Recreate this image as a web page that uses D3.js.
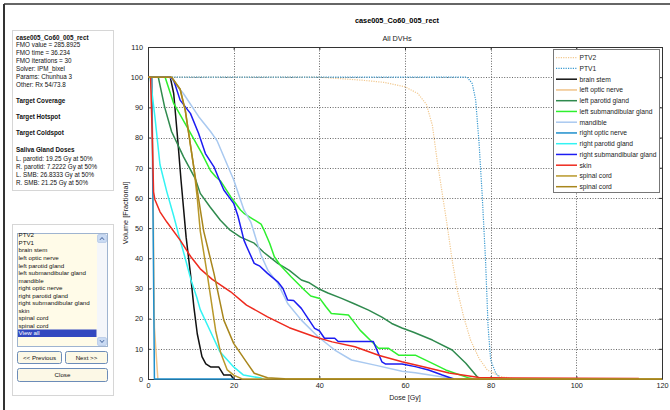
<!DOCTYPE html>
<html>
<head>
<meta charset="utf-8">
<script src="https://cdn.jsdelivr.net/npm/d3@7"></script>
<style>
  body { margin: 0; background: #fff; }
  svg { display: block; font-family: "Liberation Sans", Arial, sans-serif; }
</style>
</head>
<body>
<svg id="fig" width="670" height="410"></svg>
<script>
// ---- values ----
var xTicks = [0, 20, 40, 60, 80, 100, 120];
var yTicks = [0, 10, 20, 30, 40, 50, 60, 70, 80, 90, 100, 110];

var ptv2 = [[0,100],[40,100],[50,99],[55,98.3],[60,96.8],[63,94.6],[65,91],[66.4,84],[67.5,72.5],[68.7,61.5],[69.9,50.4],[71,39.4],[72.2,29.5],[73.7,20.6],[75.3,12.9],[77.3,6.8],[79.2,3],[82.3,0.8],[86,0]];
var ptv1 = [[0,100],[74.5,100],[75.7,97.9],[76.5,92.4],[77.3,78],[78,61.5],[78.8,39.4],[79.4,17.3],[80,6.3],[81.2,1.9],[82.3,0.2],[83,0]];
var brainStem = [[0,100],[5.2,100],[6,94.6],[6.9,80],[7.7,66],[8.9,47],[9.9,35],[10.7,24],[11.5,15],[12.6,7.4],[13.5,5],[14.6,4],[16.5,4],[17.7,1.3],[19.3,1.3],[20,0]];
var leftOptic = [[0,100],[0.9,100],[1.2,60],[1.5,17],[2.3,0]];
var leftParotid = [[0,100],[2.4,100],[3.9,90],[5.5,82],[7.5,76],[8.3,73.6],[11,66.5],[12.2,61.5],[14.5,57],[16.9,52.6],[19,49.5],[21.6,47],[24.8,45],[27,42],[30.3,38.3],[33,36],[35.8,32.8],[37.5,32],[39.7,30],[42,28.5],[45.2,26.7],[48,25],[51.5,22.8],[54.6,20.5],[56.9,18.4],[59.3,16.9],[62,15.5],[66.4,12.9],[71,9.6],[74.2,5.2],[77.3,0]];
var leftSmb = [[0,100],[4,100],[6,91.3],[9.1,83.5],[12.6,74.7],[14.6,69],[15.8,67],[17,65.5],[19.3,60.4],[21.6,56],[22.4,54.9],[24.5,53],[26.4,51.3],[27.1,49.3],[28.4,45],[29.5,40.5],[31,37.5],[33.4,33.9],[36.5,29.5],[38,27.5],[40.1,26.7],[41.5,24],[42.8,21.7],[46.8,21.2],[48,19],[49.5,16.2],[52.2,12.4],[53.8,10.2],[56.1,10.2],[58.5,7.9],[62.4,7.9],[66.4,5.2],[69.5,3],[75,0.3],[76,0]];
var mandible = [[0,100],[5.2,100],[8.3,94.5],[11.8,87],[14.6,82],[16.1,79],[18.5,71],[20,66],[22.4,56],[24,52],[25.2,46.5],[26.4,41],[28,36],[30.3,31.7],[32.6,25],[35.8,19.5],[39.7,14],[43.6,9.6],[47.5,6.3],[53,4.6],[59.3,2.6],[62.4,2.1],[70.3,0.3],[72,0]];
var rightOptic = [[0,100],[0.9,100],[1.2,50],[1.5,0],[20,0]];
var rightParotid = [[0,100],[0.5,100],[1.6,87],[2.8,71],[4.4,62],[6,54],[7.3,47],[8.5,41],[10,33],[11.4,27],[12.2,23],[14.5,16],[16.8,9],[20,4],[22.3,1.3],[26.4,0.3],[27,0]];
var rightSmb = [[0,100],[5.2,100],[6,99],[7.5,92.4],[9.9,88],[11.8,81.4],[13.4,74.7],[15.4,70.3],[16.5,66.5],[17.7,62.6],[20,58.2],[21,54],[22.4,46],[23,44],[24.8,38.3],[26,37.5],[27.9,35],[30.3,32.2],[31.5,30],[32.6,26.2],[34,26],[35.8,23.4],[38.9,16.8],[40,16],[41.2,13.5],[43.6,13.5],[44.4,12.4],[52.6,12.4],[54.6,5.7],[55.4,5],[59.3,5],[62.4,4.1],[65.5,3],[68.7,1.3],[71.4,0]];
var skin = [[0,100],[0.6,100],[1,80],[1.3,62],[1.6,59.5],[2.8,55.4],[4.4,52],[7.5,46],[10,40.5],[12.2,36.5],[15,33],[19.3,28.9],[23,24.5],[27.9,20.6],[33,17],[38.9,14],[43,12.3],[48.3,10.7],[54,7.8],[59.3,5.7],[65,3.8],[70.3,2],[77.3,0.5],[85,0.3],[114.6,0.2]];
var spinalA = [[0,100],[5.5,100],[7.5,96],[8.7,89],[10.7,70],[11.5,60],[12.2,49],[13.8,35],[15.8,16],[17,8.5],[18.5,3],[20,1.3],[22,0],[120,0]];
var spinalB = [[0,100],[5.5,100],[7.5,96],[8.7,89],[10.7,70],[12,58],[13,49],[15.4,35],[17.7,19.5],[20,11.8],[23.2,5.2],[24.8,1.9],[27.9,0.4],[31.8,0.1],[32,0],[120,0]];

var seriesNames = ["PTV2","PTV1","brain stem","left optic nerve","left parotid gland","left submandibular gland","mandible","right optic nerve","right parotid gland","right submandibular gland","skin","spinal cord","spinal cord"];
var seriesData = [ptv2, ptv1, brainStem, leftOptic, leftParotid, leftSmb, mandible, rightOptic, rightParotid, rightSmb, skin, spinalA, spinalB];
var seriesColors = ["#f2c990","#3a9ad0","#111111","#f0c38a","#2f8a4e","#2ef02e","#a9c9f0","#1f8fcc","#33f3f3","#1c1cf2","#ee2a1e","#b8982a","#a8861c"];
var seriesDotted = [true, true, false, false, false, false, false, false, false, false, false, false, false];

var infoLines = ["FMO value = 285.8925","FMO time = 36.234","FMO iterations = 30","Solver: IPM_bixel","Params: Chunhua 3","Other: Rx 54/73.8"];
var glandLines = ["L. parotid: 19.25 Gy at 50%","R. parotid: 7.2222 Gy at 50%","L. SMB: 26.8333 Gy at 50%","R. SMB: 21.25 Gy at 50%"];
var listItems = seriesNames.concat(["View all"]);

var svg = d3.select("#fig");

// window frame
svg.append("line").attr("x1", 4).attr("y1", 4).attr("x2", 670).attr("y2", 4)
  .attr("stroke", "#333").attr("stroke-width", 1.5);
svg.append("line").attr("x1", 4).attr("y1", 4).attr("x2", 4).attr("y2", 410)
  .attr("stroke", "#333").attr("stroke-width", 2);

// ---- left info panel ----
svg.append("rect").attr("x", 12.5).attr("y", 30.5).attr("width", 101).attr("height", 160)
  .attr("fill", "#fff").attr("stroke", "#d6d6d6");
var info = svg.append("g").attr("font-size", 6.3).attr("fill", "#111");
info.append("text").attr("x", 16).attr("y", 40).attr("font-weight", "bold").text("case005_Co60_005_rect");
info.selectAll("text.info").data(infoLines).join("text").attr("class", "info")
  .attr("x", 16).attr("y", function (d, i) { return 46.5 + i * 8.1; }).text(function (d) { return d; });
info.append("text").attr("x", 16).attr("y", 103).attr("font-weight", "bold").text("Target Coverage");
info.append("text").attr("x", 16).attr("y", 119).attr("font-weight", "bold").text("Target Hotspot");
info.append("text").attr("x", 16).attr("y", 135).attr("font-weight", "bold").text("Target Coldspot");
info.append("text").attr("x", 16).attr("y", 152).attr("font-weight", "bold").text("Saliva Gland Doses");
info.selectAll("text.gland").data(glandLines).join("text").attr("class", "gland")
  .attr("x", 16).attr("y", function (d, i) { return 160.5 + i * 8.3; }).text(function (d) { return d; });

// ---- left list panel ----
svg.append("rect").attr("x", 12.5).attr("y", 224.5).attr("width", 101).attr("height", 171)
  .attr("fill", "#fff").attr("stroke", "#d6d6d6");
svg.append("rect").attr("x", 17.5).attr("y", 233.5).attr("width", 90).attr("height", 113)
  .attr("fill", "#fffbe8").attr("stroke", "#9fb4d0");
svg.append("rect").attr("x", 18).attr("y", 329.5).attr("width", 78.5).attr("height", 7.5).attr("fill", "#3248c0");
var list = svg.append("g").attr("font-size", 6.2);
list.selectAll("text").data(listItems).join("text")
  .attr("x", 18.5).attr("y", function (d, i) { return 237.3 + i * 7.55; })
  .attr("fill", function (d, i) { return i === listItems.length - 1 ? "#fff" : "#111"; })
  .text(function (d) { return d; });
// scrollbar
svg.append("rect").attr("x", 97).attr("y", 234).attr("width", 10).attr("height", 112).attr("fill", "#f4f6fa");
[234.5, 337.5].forEach(function (y, i) {
  svg.append("rect").attr("x", 97.5).attr("y", y).attr("width", 9).attr("height", 8)
    .attr("rx", 1.5).attr("fill", "#c9daf3").attr("stroke", "#a9bfe0").attr("stroke-width", 0.6);
  var cy = y + 4;
  var pts = i === 0 ? [[100, cy + 1.3], [102, cy - 1], [104, cy + 1.3]] : [[100, cy - 1.3], [102, cy + 1], [104, cy - 1.3]];
  svg.append("polyline").attr("points", pts.join(" ")).attr("fill", "none").attr("stroke", "#3d5e99").attr("stroke-width", 1);
});
// buttons
var buttons = [
  { x: 17.5, y: 351.5, w: 44, h: 12, label: "<< Previous" },
  { x: 65.5, y: 351.5, w: 42, h: 12, label: "Next >>" },
  { x: 17.5, y: 368.5, w: 90, h: 13, label: "Close" }
];
var btn = svg.append("g").selectAll("g").data(buttons).join("g");
btn.append("rect").attr("x", function (d) { return d.x; }).attr("y", function (d) { return d.y; })
  .attr("width", function (d) { return d.w; }).attr("height", function (d) { return d.h; })
  .attr("rx", 2).attr("fill", "#fcf8e6").attr("stroke", "#6c8cb8");
btn.append("text").attr("x", function (d) { return d.x + d.w / 2; }).attr("y", function (d) { return d.y + d.h / 2 + 2.2; })
  .attr("text-anchor", "middle").attr("font-size", 6.2).attr("fill", "#111").text(function (d) { return d.label; });

// ---- chart ----
var x = d3.scaleLinear().domain([0, 120]).range([148, 662]);
var y = d3.scaleLinear().domain([0, 110]).range([379, 47]);

svg.append("text").attr("x", 397).attr("y", 22.5).attr("text-anchor", "middle")
  .attr("font-size", 7.3).attr("font-weight", "bold").text("case005_Co60_005_rect");
svg.append("text").attr("x", 397).attr("y", 40.5).attr("text-anchor", "middle")
  .attr("font-size", 7.3).attr("fill", "#222").text("All DVHs");
svg.append("text").attr("x", 405).attr("y", 399.5).attr("text-anchor", "middle")
  .attr("font-size", 7.1).attr("fill", "#222").text("Dose [Gy]");
svg.append("text").attr("transform", "translate(128,213) rotate(-90)").attr("text-anchor", "middle")
  .attr("font-size", 7.3).attr("fill", "#222").text("Volume [Fractional]");

// grid
var grid = svg.append("g").attr("stroke", "#666").attr("stroke-width", 1).attr("stroke-dasharray", "1,1.6");
grid.selectAll("line.gx").data(xTicks.filter(function (t) { return t > 0 && t < 120; })).join("line")
  .attr("class", "gx").attr("x1", function (d) { return Math.round(x(d)) + 0.5; }).attr("x2", function (d) { return Math.round(x(d)) + 0.5; })
  .attr("y1", y(0)).attr("y2", y(110));
grid.selectAll("line.gy").data(yTicks.filter(function (t) { return t > 0 && t < 110; })).join("line")
  .attr("class", "gy").attr("y1", function (d) { return Math.round(y(d)) + 0.5; }).attr("y2", function (d) { return Math.round(y(d)) + 0.5; })
  .attr("x1", x(0)).attr("x2", x(120));

// axes with inward ticks
function styleAxis(g) {
  g.selectAll("path").attr("stroke", "#333");
  g.selectAll("line").attr("stroke", "#333");
  g.selectAll("text").attr("font-size", 7.3).attr("fill", "#222").attr("font-family", "Liberation Sans, Arial, sans-serif");
}
svg.append("g").attr("transform", "translate(0," + y(0) + ")")
  .call(d3.axisBottom(x).tickValues(xTicks).tickSizeInner(-3).tickSizeOuter(0).tickPadding(4))
  .call(styleAxis);
svg.append("g").attr("transform", "translate(" + x(0) + ",0)")
  .call(d3.axisLeft(y).tickValues(yTicks).tickSizeInner(-3).tickSizeOuter(0).tickPadding(5))
  .call(styleAxis);
svg.append("g").attr("transform", "translate(0," + y(110) + ")")
  .call(d3.axisTop(x).tickValues(xTicks).tickSizeInner(-3).tickSizeOuter(0).tickFormat(""))
  .call(styleAxis);
svg.append("g").attr("transform", "translate(" + x(120) + ",0)")
  .call(d3.axisRight(y).tickValues(yTicks).tickSizeInner(-3).tickSizeOuter(0).tickFormat(""))
  .call(styleAxis);

// curves
var line = d3.line().x(function (d) { return x(d[0]); }).y(function (d) { return y(d[1]); });
svg.append("g").attr("fill", "none").selectAll("path").data(seriesData).join("path")
  .attr("d", line)
  .attr("stroke", function (d, i) { return seriesColors[i]; })
  .attr("stroke-width", function (d, i) { return seriesDotted[i] ? 1.2 : 1.5; })
  .attr("stroke-dasharray", function (d, i) { return seriesDotted[i] ? "1.2,1.2" : null; })
  .attr("stroke-linejoin", "round");

// legend
var lg = svg.append("g");
lg.append("rect").attr("x", 553.5).attr("y", 49.5).attr("width", 106).attr("height", 143)
  .attr("fill", "#fff").attr("stroke", "#777");
var items = lg.selectAll("g").data(seriesNames).join("g")
  .attr("transform", function (d, i) { return "translate(0," + (57.7 + i * 10.75) + ")"; });
items.append("line").attr("x1", 556).attr("x2", 577).attr("y1", 0).attr("y2", 0)
  .attr("stroke", function (d, i) { return seriesColors[i]; })
  .attr("stroke-width", function (d, i) { return seriesDotted[i] ? 1.2 : 1.5; })
  .attr("stroke-dasharray", function (d, i) { return seriesDotted[i] ? "1.2,1.2" : null; });
items.append("text").attr("x", 579.5).attr("y", 2.4).attr("font-size", 6.7).attr("fill", "#222")
  .text(function (d) { return d; });
</script>
</body>
</html>
